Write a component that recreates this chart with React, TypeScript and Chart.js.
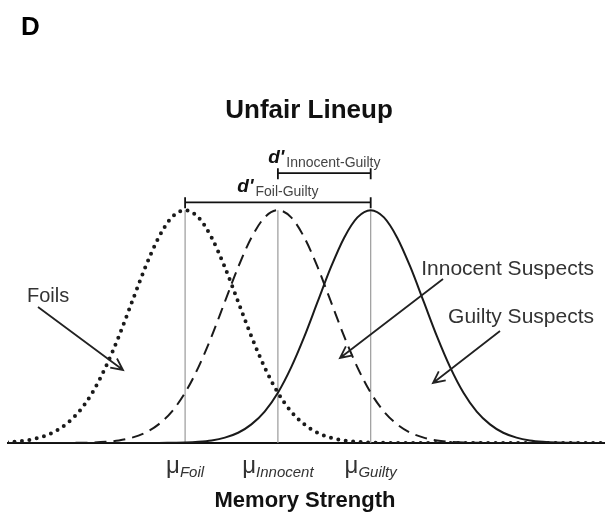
import { useEffect, useRef } from "react";
import { Chart, registerables } from "chart.js";

Chart.register(...registerables);

// Memory-strength grid (x values, in SD units)
const strength = [
  -3.5, -3.25, -3.0, -2.75, -2.5, -2.25, -2.0, -1.75, -1.5, -1.25, -1.0, -0.75,
  -0.5, -0.25, 0.0, 0.25, 0.5, 0.75, 1.0, 1.25, 1.5, 1.75, 2.0, 2.25, 2.5, 2.75,
  3.0, 3.25, 3.5, 3.75, 4.0, 4.25, 4.5, 4.75, 5.0, 5.25, 5.5, 5.75, 6.0, 6.25,
  6.5, 6.75, 7.0, 7.25, 7.5, 7.75, 8.0,
];

// Relative density (peak = 1)
const foilDensity = [
  0.002, 0.005, 0.011, 0.023, 0.044, 0.08, 0.135, 0.216, 0.325, 0.458, 0.607, 0.755,
  0.882, 0.969, 1.0, 0.969, 0.882, 0.755, 0.607, 0.458, 0.325, 0.216, 0.135, 0.08,
  0.044, 0.023, 0.011, 0.005, 0.002, 0.001, 0, 0, 0, 0, 0, 0, 0, 0, 0, 0, 0, 0, 0,
  0, 0, 0, 0,
];
const innocentDensity = [
  0, 0, 0, 0, 0, 0, 0.001, 0.002, 0.005, 0.011, 0.023, 0.044, 0.08, 0.135, 0.216,
  0.325, 0.458, 0.607, 0.755, 0.882, 0.969, 1.0, 0.969, 0.882, 0.755, 0.607, 0.458,
  0.325, 0.216, 0.135, 0.08, 0.044, 0.023, 0.011, 0.005, 0.002, 0.001, 0, 0, 0, 0,
  0, 0, 0, 0, 0, 0,
];
const guiltyDensity = [
  0, 0, 0, 0, 0, 0, 0, 0, 0, 0, 0, 0, 0, 0.001, 0.002, 0.005, 0.011, 0.023, 0.044,
  0.08, 0.135, 0.216, 0.325, 0.458, 0.607, 0.755, 0.882, 0.969, 1.0, 0.969, 0.882,
  0.755, 0.607, 0.458, 0.325, 0.216, 0.135, 0.08, 0.044, 0.023, 0.011, 0.005, 0.002,
  0.001, 0, 0, 0,
];

const meanNames = ["Foil", "Innocent", "Guilty"];
const meanStrengths = [0, 1.75, 3.5];
const meanPeaks = [1, 1, 1];

const curveNames = ["Foils", "Innocent Suspects", "Guilty Suspects"];
const dPrimeNames = ["Foil-Guilty", "Innocent-Guilty"];
const dPrimeFrom = [0, 1.75];
const dPrimeTo = [3.5, 3.5];
const dPrimeLevels = [1.034, 1.159];

const titleText = "Unfair Lineup";
const panelLetter = "D";
const axisTitle = "Memory Strength";

const FONT = '"Liberation Sans", Arial, sans-serif';

function arrow(ctx: CanvasRenderingContext2D, x1: number, y1: number, x2: number, y2: number) {
  const ang = Math.atan2(y2 - y1, x2 - x1);
  const len = 13;
  const spread = 0.45;
  ctx.beginPath();
  ctx.moveTo(x1, y1);
  ctx.lineTo(x2, y2);
  ctx.moveTo(x2 - len * Math.cos(ang - spread), y2 - len * Math.sin(ang - spread));
  ctx.lineTo(x2, y2);
  ctx.lineTo(x2 - len * Math.cos(ang + spread), y2 - len * Math.sin(ang + spread));
  ctx.stroke();
}

const annotations = {
  id: "annotations",
  afterDraw(chart: any) {
    const ctx: CanvasRenderingContext2D = chart.ctx;
    const xs = chart.scales.x;
    const ys = chart.scales.y;
    ctx.save();

    // Panel letter and title
    ctx.fillStyle = "#000";
    ctx.textBaseline = "alphabetic";
    ctx.textAlign = "left";
    ctx.font = `bold 26px ${FONT}`;
    ctx.fillText(panelLetter, 21, 35);
    ctx.textAlign = "center";
    ctx.font = `bold 26px ${FONT}`;
    ctx.fillStyle = "#111";
    ctx.fillText(titleText, 309, 118);

    // d' brackets
    for (let i = 0; i < dPrimeNames.length; i++) {
      const x1 = xs.getPixelForValue(dPrimeFrom[i]);
      const x2 = xs.getPixelForValue(dPrimeTo[i]);
      const y = ys.getPixelForValue(dPrimeLevels[i]);
      ctx.strokeStyle = "#111";
      ctx.lineWidth = 1.8;
      ctx.beginPath();
      ctx.moveTo(x1, y);
      ctx.lineTo(x2, y);
      ctx.moveTo(x1, y - 5);
      ctx.lineTo(x1, y + 6);
      ctx.moveTo(x2, y - 5);
      ctx.lineTo(x2, y + 6);
      ctx.stroke();

      ctx.font = `bold italic 19px ${FONT}`;
      const dW = ctx.measureText("d'").width;
      ctx.font = `14px ${FONT}`;
      const sW = ctx.measureText(dPrimeNames[i]).width;
      const total = dW + 2 + sW;
      const left = (x1 + x2) / 2 - total / 2;
      ctx.textAlign = "left";
      ctx.fillStyle = "#111";
      ctx.font = `bold italic 19px ${FONT}`;
      ctx.fillText("d'", left, y - 10);
      ctx.fillStyle = "#444";
      ctx.font = `14px ${FONT}`;
      ctx.fillText(dPrimeNames[i], left + dW + 2, y - 6);
    }

    // mu labels
    const base = ys.getPixelForValue(0);
    for (let i = 0; i < meanNames.length; i++) {
      const cx = xs.getPixelForValue(meanStrengths[i]);
      ctx.font = `24px ${FONT}`;
      const mW = ctx.measureText("\u03bc").width;
      ctx.font = `italic 15px ${FONT}`;
      const sW = ctx.measureText(meanNames[i]).width;
      const left = cx - (mW + sW) / 2;
      ctx.textAlign = "left";
      ctx.fillStyle = "#333";
      ctx.font = `24px ${FONT}`;
      ctx.fillText("\u03bc", left, base + 30);
      ctx.font = `italic 15px ${FONT}`;
      ctx.fillText(meanNames[i], left + mW, base + 34);
    }

    // axis title
    ctx.textAlign = "center";
    ctx.fillStyle = "#111";
    ctx.font = `bold 22px ${FONT}`;
    ctx.fillText(axisTitle, 305, 507);

    // curve labels and arrows
    ctx.fillStyle = "#333";
    ctx.font = `20px ${FONT}`;
    ctx.textAlign = "left";
    ctx.fillText(curveNames[0], 27, 302);
    ctx.font = `21px ${FONT}`;
    ctx.textAlign = "right";
    ctx.fillText(curveNames[1], 594, 275);
    ctx.fillText(curveNames[2], 594, 323);

    ctx.strokeStyle = "#222";
    ctx.lineWidth = 1.8;
    arrow(ctx, 38, 307, 123, 370);
    arrow(ctx, 443, 279, 340, 358);
    arrow(ctx, 500, 331, 433, 383);

    ctx.restore();
  },
};

export default function App() {
  const ref = useRef<HTMLCanvasElement | null>(null);

  useEffect(() => {
    if (!ref.current) return;
    const pts = (ys: number[]) => strength.map((x, i) => ({ x, y: ys[i] }));
    const meanLine = (i: number) => ({
      label: "mean " + meanNames[i],
      data: [
        { x: meanStrengths[i], y: 0 },
        { x: meanStrengths[i], y: meanPeaks[i] },
      ],
      borderColor: "#9a9a9a",
      borderWidth: 1.2,
      pointRadius: 0,
      tension: 0,
    });
    const chart = new Chart(ref.current, {
      type: "line",
      data: {
        datasets: [
          {
            label: curveNames[2],
            data: pts(guiltyDensity),
            borderColor: "#1a1a1a",
            borderWidth: 2,
            pointRadius: 0,
            cubicInterpolationMode: "monotone",
          },
          {
            label: curveNames[1],
            data: pts(innocentDensity),
            borderColor: "#1a1a1a",
            borderWidth: 2,
            borderDash: [12, 7],
            pointRadius: 0,
            cubicInterpolationMode: "monotone",
          },
          {
            label: curveNames[0],
            data: pts(foilDensity),
            borderColor: "#1a1a1a",
            borderWidth: 4,
            borderDash: [0, 7.5],
            borderCapStyle: "round",
            pointRadius: 0,
            cubicInterpolationMode: "monotone",
          },
          meanLine(0),
          meanLine(1),
          meanLine(2),
        ] as any,
      },
      options: {
        animation: false,
        responsive: true,
        maintainAspectRatio: false,
        layout: { padding: { left: 8, right: 2, top: 152, bottom: 72 } },
        plugins: {
          legend: { display: false },
          tooltip: { enabled: false },
          title: { display: false },
        },
        scales: {
          x: {
            type: "linear",
            min: -3.34,
            max: 7.9,
            display: true,
            grid: { display: false, drawTicks: false },
            ticks: { display: false },
            border: { display: true, color: "#111", width: 2 },
          },
          y: {
            type: "linear",
            min: 0,
            max: 1.25,
            display: false,
          },
        },
      },
      plugins: [annotations],
    });
    return () => chart.destroy();
  }, []);

  return (
    <div style={{ position: "fixed", left: 0, top: 0, width: 606, height: 515, background: "#fff" }}>
      <canvas ref={ref} />
    </div>
  );
}
